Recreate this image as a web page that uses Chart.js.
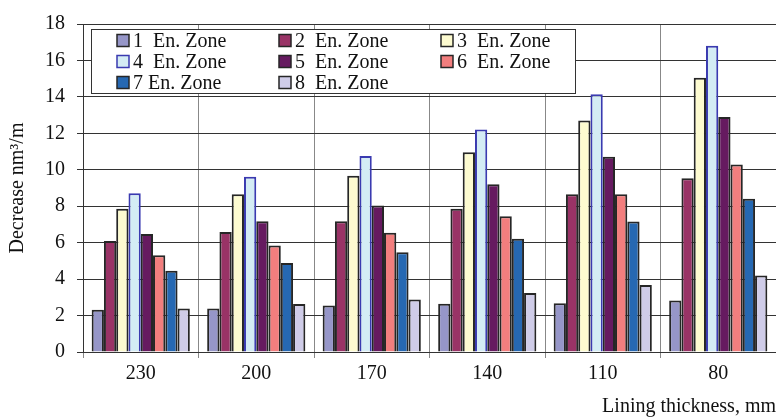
<!DOCTYPE html>
<html>
<head>
<meta charset="utf-8">
<script src="https://cdn.jsdelivr.net/npm/chart.js@4/dist/chart.umd.min.js"></script>
<style>
  html, body { margin: 0; padding: 0; background: #fff; overflow: hidden; }
  #wrap { width: 776px; height: 419px; }
</style>
</head>
<body>
<div id="wrap"><canvas id="chart" width="776" height="419"></canvas></div>
<script>
// lining thickness categories
const thickness = ["230", "200", "170", "140", "110", "80"];
const yTicks = [0, 2, 4, 6, 8, 10, 12, 14, 16, 18];

const zone1 = [2.32, 2.39, 2.55, 2.65, 2.68, 2.83];
const zone2 = [6.09, 6.58, 7.17, 7.86, 8.66, 9.53];
const zone3 = [7.86, 8.66, 9.67, 10.96, 12.70, 15.05];
const zone4 = [8.71, 9.62, 10.76, 12.21, 14.15, 16.81];
const zone5 = [6.48, 7.17, 8.04, 9.20, 10.72, 12.90];
const zone6 = [5.31, 5.85, 6.54, 7.45, 8.66, 10.29];
const zone7 = [4.46, 4.89, 5.47, 6.21, 7.16, 8.41];
const zone8 = [2.39, 2.63, 2.88, 3.24, 3.68, 4.20];

const zoneLabels = ["1  En. Zone", "2  En. Zone", "3  En. Zone", "4  En. Zone",
                    "5  En. Zone", "6  En. Zone", "7 En. Zone", "8  En. Zone"];
const zoneColors = ["#9696c8", "#993366", "#fdfbd0", "#d4ecf4",
                    "#661a60", "#f27e7e", "#2668b2", "#cfcce8"];
const zoneBorders = ["#262626", "#262626", "#262626", "#3a3ab0",
                     "#262626", "#262626", "#262626", "#262626"];
const allZones = [zone1, zone2, zone3, zone4, zone5, zone6, zone7, zone8];

const serif = "'Liberation Serif', 'Times New Roman', serif";

// legend box drawn inside the plot, like the original
const boxLegend = {
  id: "boxLegend",
  afterDatasetsDraw(chart) {
    const ctx = chart.ctx;
    const x0 = 91, y0 = 29, w = 484, h = 64;
    ctx.save();
    ctx.fillStyle = "#fff";
    ctx.fillRect(x0, y0, w, h);
    ctx.strokeStyle = "#333";
    ctx.lineWidth = 1;
    ctx.strokeRect(x0 + 0.5, y0 + 0.5, w, h);
    const colX = [117, 279, 441];
    const rowY = [40.5, 61.5, 82.5];
    ctx.font = "20px " + serif;
    ctx.textBaseline = "middle";
    chart.data.datasets.forEach(function (ds, i) {
      const cx = colX[i % 3], cy = rowY[Math.floor(i / 3)];
      ctx.fillStyle = ds.backgroundColor;
      ctx.fillRect(cx, cy - 6, 12, 12);
      ctx.strokeStyle = ds.borderColor;
      ctx.lineWidth = 1.5;
      ctx.strokeRect(cx, cy - 6, 12, 12);
      ctx.fillStyle = "#111";
      ctx.fillText(ds.label, cx + 16, cy + 1);
    });
    ctx.restore();
  },
};

new Chart(document.getElementById("chart"), {
  type: "bar",
  data: {
    labels: thickness,
    datasets: allZones.map(function (vals, i) {
      return {
        label: zoneLabels[i],
        data: vals,
        backgroundColor: zoneColors[i],
        borderColor: zoneBorders[i],
        borderWidth: 2,
        categoryPercentage: 0.85,
        barPercentage: 1.0,
      };
    }),
  },
  options: {
    responsive: false,
    animation: false,
    layout: { padding: { top: 21, right: 0, left: 0, bottom: 0 } },
    plugins: {
      legend: { display: false },
      tooltip: { enabled: false },
    },
    scales: {
      x: {
        grid: {
          offset: true,
          color: "#888",
          lineWidth: 1,
          tickLength: 6,
          drawOnChartArea: true,
        },
        border: { color: "#333", width: 1 },
        ticks: {
          color: "#111",
          font: { family: serif, size: 20 },
          padding: 4,
          maxRotation: 0,
        },
        title: {
          display: true,
          text: "Lining thickness, mm",
          align: "end",
          color: "#111",
          font: { family: serif, size: 20 },
          padding: { top: 4, bottom: 0 },
        },
        afterFit: function (scale) { scale.height = 67; },
      },
      y: {
        min: 0,
        max: 18,
        afterBuildTicks: function (scale) {
          scale.ticks = yTicks.map(function (v) { return { value: v }; });
        },
        grid: {
          color: "#333",
          lineWidth: 1,
          tickLength: 6,
        },
        border: { color: "#333", width: 1 },
        ticks: {
          color: "#111",
          font: { family: serif, size: 20 },
          padding: 12,
        },
        title: {
          display: true,
          text: "Decrease nm³/m",
          color: "#111",
          font: { family: serif, size: 20 },
          padding: { top: 6, bottom: 0 },
        },
        afterFit: function (scale) { scale.width = 83; },
      },
    },
  },
  plugins: [boxLegend],
});
</script>
</body>
</html>
